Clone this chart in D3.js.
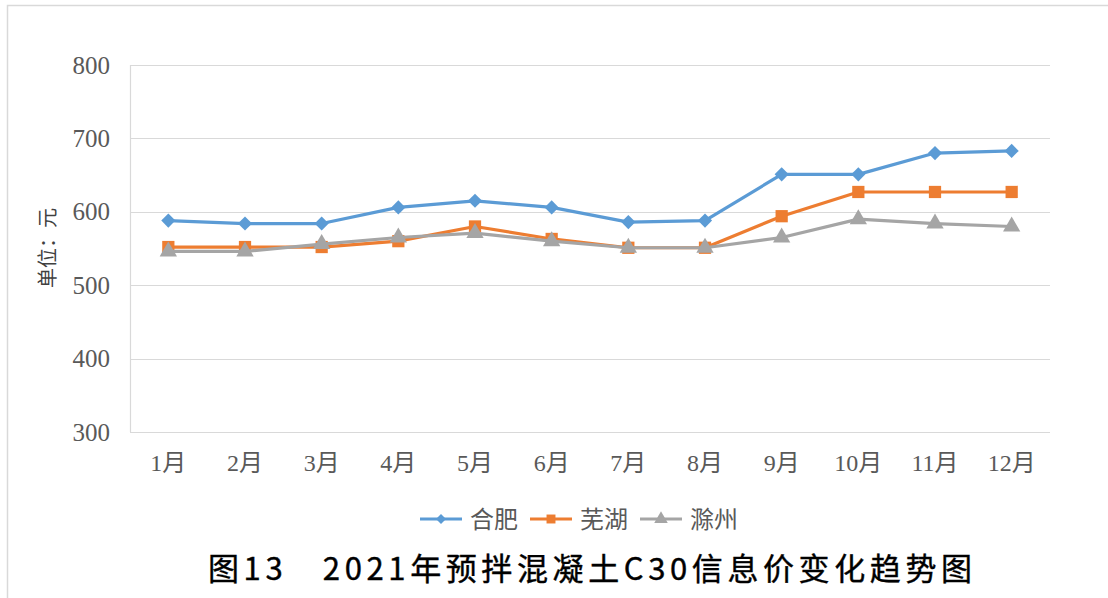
<!DOCTYPE html>
<html><head><meta charset="utf-8">
<script src="https://cdn.jsdelivr.net/npm/d3@7"></script>
<style>body{margin:0;background:#fff}svg{display:block}</style>
</head><body><svg id="c" width="1108" height="598"></svg>
<script>
const months = ["1月","2月","3月","4月","5月","6月","7月","8月","9月","10月","11月","12月"];
const hefei = [588,584,584,606,615,606,586,588,651,651,680,683];
const wuhu  = [552,552,552,560,580,563,551,551,594,627,627,627];
const chuzhou = [546,546,556,565,571,560,551,551,565,590,584,580];
const seriesNames = ["合肥","芜湖","滁州"];
const colors = ["#5B9BD5","#ED7D31","#A5A5A5"];
const yTicks = [300,400,500,600,700,800];

const svg = d3.select("#c");
svg.append("rect").attr("x",7.5).attr("y",5.5).attr("width",1200).attr("height",700)
  .attr("fill","none").attr("stroke","#d9d9d9").attr("stroke-width",1.5);

const L=130, R=1050, T=65, B=432;
const x = d3.scaleBand().domain(months).range([L,R]);
const y = d3.scaleLinear().domain([300,800]).range([B,T]);

const g = svg.append("g");
g.selectAll("line.grid").data(yTicks).join("line")
  .attr("x1",L).attr("x2",R).attr("y1",d=>Math.round(y(d))+0.5).attr("y2",d=>Math.round(y(d))+0.5)
  .attr("stroke","#d9d9d9").attr("stroke-width",1.2);
g.append("line").attr("x1",L+0.5).attr("x2",L+0.5).attr("y1",T).attr("y2",B).attr("stroke","#d9d9d9").attr("stroke-width",1.2);

const yAxis = d3.axisLeft(y).tickValues(yTicks).tickSize(0).tickPadding(20);
const ya = svg.append("g").attr("transform",`translate(${L},0)`).call(yAxis);
ya.select(".domain").remove();
ya.selectAll("text").attr("font-family","'Liberation Serif','Noto Sans CJK SC',serif").attr("font-size",25).attr("fill","#595959");

const xAxis = d3.axisBottom(x).tickSize(0).tickPadding(22);
const xa = svg.append("g").attr("transform",`translate(0,${B})`).call(xAxis);
xa.select(".domain").remove();
xa.selectAll("text").attr("font-family","'Liberation Serif','Noto Sans CJK SC',serif").attr("font-size",24).attr("fill","#595959");

svg.append("text").attr("transform","translate(55,248) rotate(-90)").attr("text-anchor","middle")
  .attr("font-family","'Noto Sans CJK SC',sans-serif").attr("font-size",20).attr("fill","#404040").text("单位：元");

const data = [hefei,wuhu,chuzhou];
const line = d3.line().x((d,i)=>x(months[i])+x.bandwidth()/2).y(d=>y(d));
const symbols = [d3.symbolSquare, d3.symbolSquare, d3.symbolTriangle];
const rot = [45,0,0];
const sizes = [100,150,130];
data.forEach((vals,k)=>{
  svg.append("path").datum(vals).attr("d",line).attr("fill","none").attr("stroke",colors[k]).attr("stroke-width",3.2).attr("stroke-linejoin","round");
  svg.selectAll(null).data(vals).join("path")
    .attr("transform",(d,i)=>`translate(${x(months[i])+x.bandwidth()/2},${y(d)}) rotate(${rot[k]})`)
    .attr("d",d3.symbol(symbols[k],sizes[k])).attr("fill",colors[k]);
});

const legX = [420,530,640];
seriesNames.forEach((n,k)=>{
  const lg = svg.append("g").attr("transform",`translate(${legX[k]},519)`);
  lg.append("line").attr("x1",0).attr("x2",42).attr("stroke",colors[k]).attr("stroke-width",3.2);
  lg.append("path").attr("transform",`translate(21,0) rotate(${rot[k]})`).attr("d",d3.symbol(symbols[k],k==0?50:80)).attr("fill",colors[k]);
  lg.append("text").attr("x",50).attr("y",9).attr("font-family","'Noto Sans CJK SC',sans-serif").attr("font-size",24).attr("fill","#595959").text(n);
});

svg.append("text").attr("x",208).attr("y",580).attr("textLength",764).attr("lengthAdjust","spacing")
  .attr("font-family","'Noto Sans CJK SC',sans-serif").attr("font-size",31).attr("font-weight",400).attr("fill","#000")
  .attr("stroke","#000").attr("stroke-width",0.4)
  .text("图13　2021年预拌混凝土C30信息价变化趋势图");
</script></body></html>
